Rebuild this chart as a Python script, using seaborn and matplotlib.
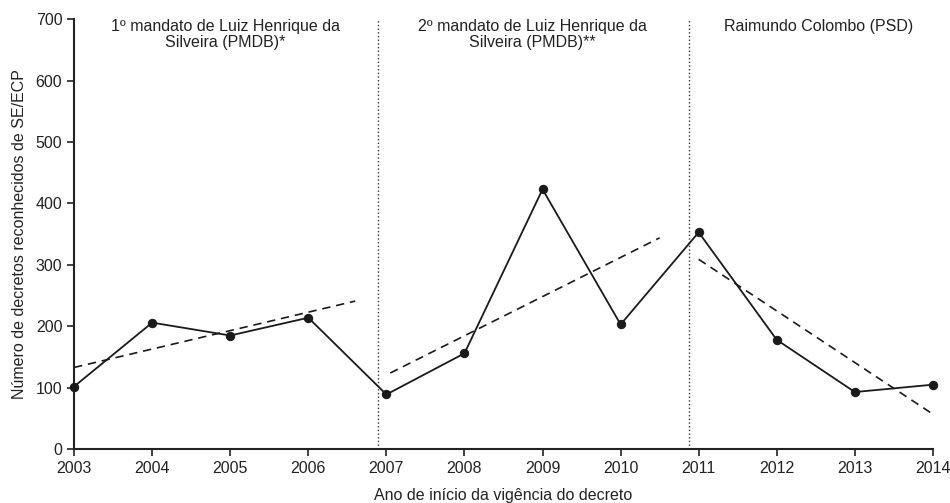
import pandas as pd
import matplotlib.pyplot as plt
import seaborn as sns

# Data
anos = [2003, 2004, 2005, 2006, 2007, 2008, 2009, 2010, 2011, 2012, 2013, 2014]
decretos = [102, 206, 185, 214, 89, 156, 423, 203, 353, 178, 93, 105]

# Dashed trend segments per mandate (start/end x and y)
tend_x = [[2003.0, 2006.6], [2007.05, 2010.5], [2011.0, 2014.0]]
tend_y = [[133, 241], [124, 344], [309, 57]]

# Mandate boundaries and labels
divisoes = [2006.89, 2010.87]
mandatos = ['1º mandato de Luiz Henrique da\nSilveira (PMDB)*',
            '2º mandato de Luiz Henrique da\nSilveira (PMDB)**',
            'Raimundo Colombo (PSD)']
mandatos_x = [2004.94, 2008.87, 2012.54]

df = pd.DataFrame({'ano': anos, 'decretos': decretos})

sns.set_style('ticks')
plt.rcParams['font.family'] = ['Liberation Sans', 'DejaVu Sans']

fig = plt.figure(figsize=(9.5, 5.03), dpi=100)
ax = fig.add_axes([0.078, 0.107, 0.904, 0.855])

sns.lineplot(data=df, x='ano', y='decretos', ax=ax, color='#1a1a1a', linewidth=1.3,
             marker='o', markersize=6, markeredgecolor='#1a1a1a', clip_on=False, zorder=3)

for xs, ys in zip(tend_x, tend_y):
    sns.lineplot(x=xs, y=ys, ax=ax, color='#1a1a1a', linewidth=1.2, linestyle=(0, (5, 3.5)))

for xv in divisoes:
    ax.axvline(xv, color='#333333', linestyle=':', linewidth=1.0)

for xt, txt in zip(mandatos_x, mandatos):
    ax.text(xt, 700, txt, ha='center', va='top', fontsize=11.5, color='#222222',
            linespacing=1.1)

ax.set_xlim(2003, 2014)
ax.set_ylim(0, 700)
ax.set_xticks(anos)
ax.set_yticks(range(0, 701, 100))
ax.tick_params(labelsize=11.5, colors='#222222', length=5, width=1.2)
ax.set_xlabel('Ano de início da vigência do decreto', fontsize=11.5, color='#222222', labelpad=9)
ax.set_ylabel('Número de decretos reconhecidos de SE/ECP', fontsize=11.5, color='#222222', labelpad=6)
for s in ['left', 'bottom']:
    ax.spines[s].set_linewidth(1.5)
    ax.spines[s].set_color('#222222')
sns.despine(ax=ax)

fig.savefig('out.png', dpi=100)
